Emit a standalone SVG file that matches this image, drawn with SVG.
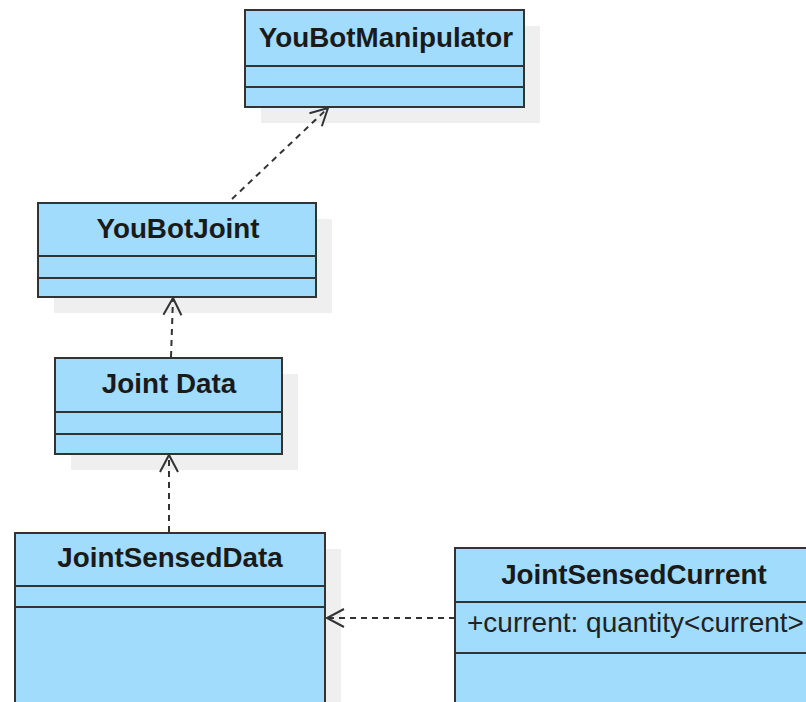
<svg xmlns="http://www.w3.org/2000/svg" width="806" height="702" viewBox="0 0 806 702">
<style>
.shadow{fill:#efefef;stroke:none}
.box{fill:#a1dcfd;stroke:#333;stroke-width:2}
.sep{stroke:#333;stroke-width:2}
.title{font-family:"Liberation Sans",Arial,sans-serif;font-weight:bold;font-size:27.8px;fill:#1a1a1a;text-anchor:middle}
.attr{font-family:"Liberation Sans",Arial,sans-serif;font-size:28px;fill:#222}
.dep{fill:none;stroke:#333;stroke-width:2;stroke-dasharray:6,5;marker-end:url(#open)}
</style>
<defs>
<marker id="open" viewBox="0 0 20 20" refX="18" refY="10" markerWidth="20" markerHeight="20" markerUnits="userSpaceOnUse" orient="auto" overflow="visible">
<path d="M1,1 L18,10 L1,19" fill="none" stroke="#333" stroke-width="2"/>
</marker>
</defs>
<rect width="806" height="702" fill="#fff"/>
<g id="shadows">
<rect class="shadow" x="261" y="26" width="279" height="97"/>
<rect class="shadow" x="54" y="219" width="278" height="94"/>
<rect class="shadow" x="71" y="374" width="227" height="96"/>
<rect class="shadow" x="31" y="549" width="310" height="200"/>
<rect class="shadow" x="471" y="564" width="360" height="200"/>
</g>
<g id="YouBotManipulator">
<rect class="box" x="245" y="10" width="279" height="97"/>
<line class="sep" x1="245" y1="66" x2="524" y2="66"/>
<line class="sep" x1="245" y1="87" x2="524" y2="87"/>
<text class="title" x="386" y="47">YouBotManipulator</text>
</g>
<g id="YouBotJoint">
<rect class="box" x="38" y="203" width="278" height="94"/>
<line class="sep" x1="38" y1="256" x2="316" y2="256"/>
<line class="sep" x1="38" y1="278" x2="316" y2="278"/>
<text class="title" x="178" y="238">YouBotJoint</text>
</g>
<g id="JointData">
<rect class="box" x="55" y="358" width="227" height="96"/>
<line class="sep" x1="55" y1="412" x2="282" y2="412"/>
<line class="sep" x1="55" y1="434" x2="282" y2="434"/>
<text class="title" x="169" y="393">Joint Data</text>
</g>
<g id="JointSensedData">
<rect class="box" x="15" y="533" width="310" height="200"/>
<line class="sep" x1="15" y1="586" x2="325" y2="586"/>
<line class="sep" x1="15" y1="607" x2="325" y2="607"/>
<text class="title" x="170" y="567">JointSensedData</text>
</g>
<g id="JointSensedCurrent">
<rect class="box" x="455" y="548" width="360" height="200"/>
<line class="sep" x1="455" y1="602" x2="815" y2="602"/>
<line class="sep" x1="455" y1="653" x2="815" y2="653"/>
<text class="title" x="634" y="584">JointSensedCurrent</text>
<text class="attr" x="467" y="632">+current: quantity&lt;current&gt;</text>
</g>
<g id="connectors">
<line class="dep" x1="232" y1="199" x2="328" y2="108"/>
<line class="dep" x1="171" y1="357" x2="173" y2="298"/>
<line class="dep" x1="169" y1="532" x2="169" y2="455"/>
<line class="dep" x1="455" y1="618" x2="327" y2="618"/>
</g>
</svg>
